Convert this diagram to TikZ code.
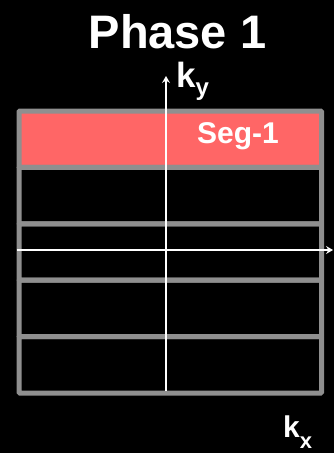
\documentclass[tikz,border=0pt]{standalone}
\usepackage{fontspec}
\setmainfont{Liberation Sans}
\usetikzlibrary{arrows.meta}
\definecolor{gridgray}{RGB}{143,143,143}
\definecolor{segred}{RGB}{255,102,102}
\begin{document}
\begin{tikzpicture}[x=1pt,y=-1pt,
  rowbox/.style={draw=gridgray, line width=5pt, minimum width=302.5pt, minimum height=56.4pt, inner sep=0pt, anchor=north west, rounded corners=1pt},
  axis/.style={draw=white, line width=2pt, -{Stealth[length=7pt,width=8pt,inset=2.5pt]}},
  lbl/.style={text=white, inner sep=0pt, font=\bfseries}]
\fill[black] (0,0) rectangle (334,453);
\useasboundingbox (0,0) rectangle (334,453);
\node[lbl, anchor=base, font=\bfseries\fontsize{47}{50}\selectfont] (title) at (177.5,48) {Phase 1};
\node[rowbox, fill=segred] (r1) at (16.5,108.5) {};
\node[rowbox] (r2) at (16.5,164.9) {};
\node[rowbox] (r3) at (16.5,221.3) {};
\node[rowbox] (r4) at (16.5,277.7) {};
\node[rowbox] (r5) at (16.5,334.1) {};
\node[lbl, anchor=base west, font=\bfseries\fontsize{30}{32}\selectfont] (seg) at (197,143.5) {Seg-1};
\coordinate (ytop) at (166,76);
\coordinate (ybot) at (166,391);
\coordinate (xl) at (16.5,250);
\coordinate (xr) at (333,250);
\draw[axis] (ybot) -- (ytop);
\draw[axis] (xl) -- (xr);
\node[lbl, anchor=base west, font=\bfseries\fontsize{35}{38}\selectfont] (ky) at (176,87) {k\raisebox{-8pt}{\fontsize{24}{26}\selectfont y}};
\node[lbl, anchor=base west, font=\bfseries\fontsize{30}{32}\selectfont] (kx) at (283,437) {k\raisebox{-11pt}{\fontsize{22}{24}\selectfont x}};
\end{tikzpicture}
\end{document}
